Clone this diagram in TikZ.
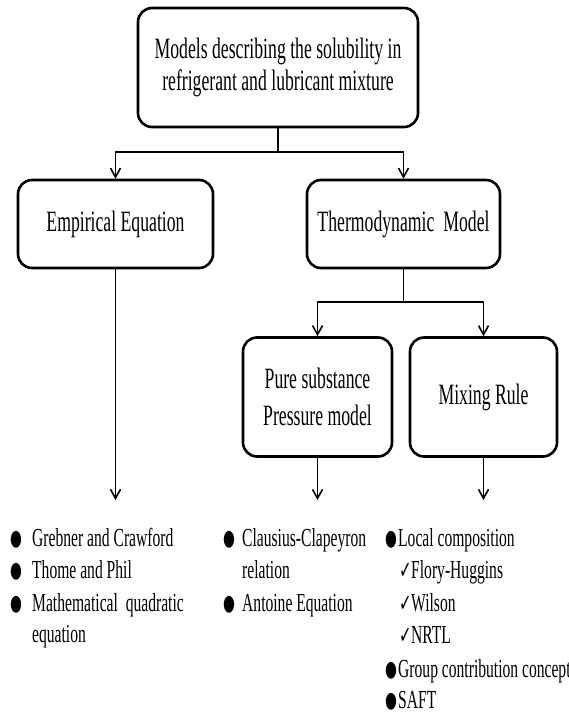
\documentclass[tikz,border=0pt]{standalone}
\usepackage{fontspec}
\setmainfont{Liberation Serif}[FakeStretch=0.6]
\newfontfamily\symf{DejaVu Sans}[FakeStretch=0.62]
\usetikzlibrary{arrows.meta}
\begin{document}
\begin{tikzpicture}[x=1pt,y=-1pt,
  box/.style={draw, line width=2.6pt, rounded corners=14pt, align=center, inner sep=0pt, font=\fontsize{29.5}{32}\selectfont},
  conn/.style={line width=1.5pt},
  arr/.style={conn, -{Straight Barb[length=9pt,width=10pt,line width=1.6pt]}},
  item/.style={anchor=base west, inner sep=0pt, font=\fontsize{26}{30}\selectfont},
  bul/.style={anchor=base west, inner sep=0pt, font=\symf\fontsize{22}{30}\selectfont},
  chk/.style={anchor=base west, inner sep=0pt, font=\symf\fontsize{24}{30}\selectfont}]
\useasboundingbox (0,0) rectangle (568,715);
\fill[white] (0,0) rectangle (568,715);

\node[box, minimum width=280pt, minimum height=119pt] (top) at (278,67.5) {Models describing the solubility in\\refrigerant and lubricant mixture};
\node[box, minimum width=195pt, minimum height=88pt] (emp) at (115.5,224) {Empirical Equation};
\node[box, minimum width=193pt, minimum height=88pt] (thermo) at (403.5,224) {Thermodynamic\ \ Model};
\node[box, minimum width=149pt, minimum height=119pt, font=\fontsize{29.5}{37}\selectfont] (pure) at (317.5,397) {Pure substance\\Pressure model};
\node[box, minimum width=147pt, minimum height=119pt] (mix) at (483.5,397) {Mixing Rule};

\coordinate (j1) at (278,152);
\coordinate (j2) at (403.5,302);
\coordinate (e1) at (115.5,500);
\coordinate (e2) at (317.5,500);
\coordinate (e3) at (483.5,500);
\draw[conn] (top.south) -- (j1);
\draw[arr] (j1) -| (emp.north);
\draw[arr] (j1) -| (thermo.north);
\draw[conn] (thermo.south) -- (j2);
\draw[arr] (j2) -| (pure.north);
\draw[arr] (j2) -| (mix.north);
\draw[arr] (emp.south) -- (e1);
\draw[arr] (pure.south) -- (e2);
\draw[arr] (mix.south) -- (e3);

% column 1
\node[bul] (b11) at (10,545) {●};
\node[item] (t11) at (32,546) {Grebner and Crawford};
\node[bul] (b12) at (10,577) {●};
\node[item] (t12) at (32,578) {Thome and Phil};
\node[bul] (b13) at (10,610) {●};
\node[item] (t13) at (32,611) {Mathematical\ \ quadratic};
\node[item] (t14) at (32,642) {equation};

% column 2
\node[bul] (b21) at (223,545) {●};
\node[item] (t21) at (242,546) {Clausius-Clapeyron};
\node[item] (t22) at (242,578) {relation};
\node[bul] (b23) at (223,610) {●};
\node[item] (t23) at (242,611) {Antoine Equation};

% column 3
\node[bul] (b31) at (385,545) {●};
\node[item] (t31) at (398,546) {Local composition};
\node[chk] (c32) at (399,578) {✓};
\node[item] (t32) at (411,578) {Flory-Huggins};
\node[chk] (c33) at (399,611) {✓};
\node[item] (t33) at (411,611) {Wilson};
\node[chk] (c34) at (399,643) {✓};
\node[item] (t34) at (411,643) {NRTL};
\node[bul] (b35) at (385,676) {●};
\node[item] (t35) at (398,677) {Group contribution concept};
\node[bul] (b36) at (385,707) {●};
\node[item] (t36) at (398,708) {SAFT};
\end{tikzpicture}
\end{document}
